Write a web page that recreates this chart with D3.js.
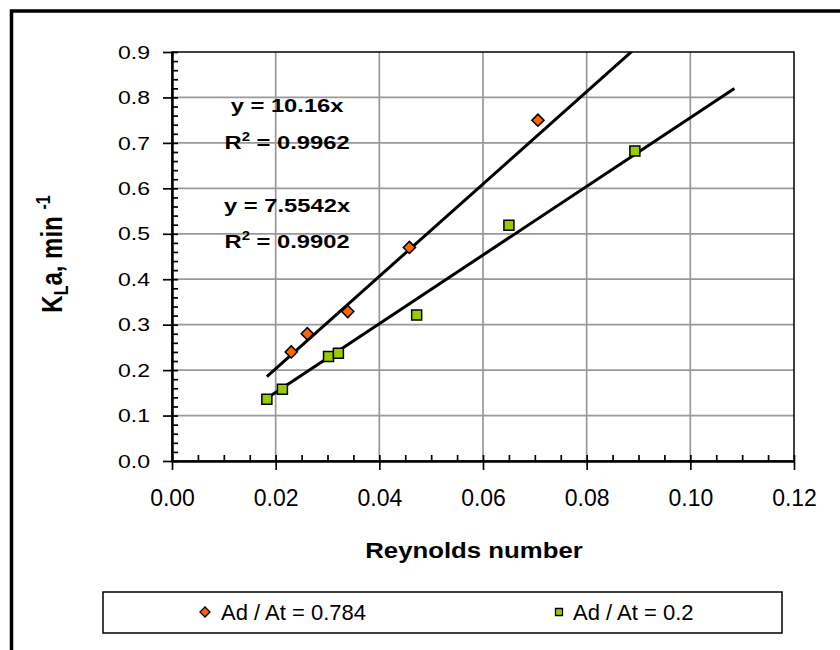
<!DOCTYPE html>
<html>
<head>
<meta charset="utf-8">
<script src="https://cdn.jsdelivr.net/npm/d3@7"></script>
<style>
  body { margin: 0; background: #fff; }
  text { font-family: Arial, "Liberation Sans", sans-serif; fill: #000; }
</style>
</head>
<body>
<svg id="svg1" width="840" height="650"></svg>
<script>
// data
var seriesNames = ["Ad / At = 0.784", "Ad / At = 0.2"];
var reA = [0.0230, 0.0261, 0.0339, 0.0458, 0.0706];
var klaA = [0.240, 0.280, 0.329, 0.470, 0.750];
var reB = [0.0183, 0.0213, 0.0302, 0.0321, 0.0472, 0.0650, 0.0893];
var klaB = [0.136, 0.158, 0.230, 0.237, 0.321, 0.519, 0.682];
var slopes = [10.16, 7.5542];
var slopeLabels = ["10.16", "7.5542"];
var r2Labels = ["0.9962", "0.9902"];
var trendRange = [0.0183, 0.1085];
var xTicks = [0, 0.02, 0.04, 0.06, 0.08, 0.10, 0.12];
var yTicks = [0, 0.1, 0.2, 0.3, 0.4, 0.5, 0.6, 0.7, 0.8, 0.9];

var svg = d3.select("#svg1");
var margin = {left: 172, top: 52, right: 794, bottom: 461};
var colors = ["#FF6600", "#99CC00"];

var x = d3.scaleLinear().domain([0, 0.12]).range([margin.left, margin.right]);
var y = d3.scaleLinear().domain([0, 0.9]).range([margin.bottom, margin.top]);

// outer chart frame (runs off the right and bottom of the picture)
svg.append("rect")
    .attr("x", 11.5).attr("y", 11)
    .attr("width", 900).attr("height", 700)
    .attr("fill", "none").attr("stroke", "#000").attr("stroke-width", 3.5);

svg.append("defs").append("clipPath")
    .attr("id", "clip")
  .append("rect")
    .attr("x", margin.left).attr("y", margin.top)
    .attr("width", margin.right - margin.left)
    .attr("height", margin.bottom - margin.top);

// grid
var grid = svg.append("g").attr("stroke", "#999").attr("stroke-width", 1.7);
grid.selectAll(".gx").data(xTicks.slice(1, -1)).enter().append("line")
    .attr("x1", function(d) { return x(d); }).attr("x2", function(d) { return x(d); })
    .attr("y1", y(0)).attr("y2", y(0.9));
grid.selectAll(".gy").data(yTicks.slice(1, -1)).enter().append("line")
    .attr("y1", function(d) { return y(d); }).attr("y2", function(d) { return y(d); })
    .attr("x1", x(0)).attr("x2", x(0.12));

// plot border
svg.append("rect")
    .attr("x", margin.left).attr("y", margin.top)
    .attr("width", margin.right - margin.left)
    .attr("height", margin.bottom - margin.top)
    .attr("fill", "none").attr("stroke", "#000").attr("stroke-width", 1.5);

// axes
var yAxis = svg.append("g")
    .attr("transform", "translate(" + margin.left + ",0)")
    .call(d3.axisLeft(y).tickValues(yTicks).tickSizeInner(9).tickSizeOuter(0)
      .tickFormat(d3.format(".1f")));
svg.append("g")
    .attr("transform", "translate(" + margin.left + ",0)")
    .call(d3.axisRight(y).tickValues(d3.range(0, 0.9001, 0.02)).tickSizeInner(6).tickSizeOuter(0)
      .tickFormat(""));

var xAxis = svg.append("g")
    .attr("transform", "translate(0," + margin.bottom + ")")
    .call(d3.axisBottom(x).tickValues(xTicks).tickSizeInner(9).tickSizeOuter(0)
      .tickFormat(d3.format(".2f")));
svg.append("g")
    .attr("transform", "translate(0," + margin.bottom + ")")
    .call(d3.axisTop(x).tickValues(d3.range(0, 0.12001, 0.005)).tickSizeInner(6).tickSizeOuter(0)
      .tickFormat(""));

svg.selectAll(".domain").attr("stroke", "#000").attr("stroke-width", 2);
svg.selectAll(".tick line").attr("stroke", "#000").attr("stroke-width", 1.7);

yAxis.selectAll("text")
    .attr("x", null).attr("dy", "0.34em")
    .attr("transform", "translate(-22,0) scale(1.28,1)")
    .style("font-size", "18px").attr("font-family", null);
xAxis.selectAll("text")
    .attr("y", 45).attr("dy", 0)
    .style("font-size", "23px").attr("font-family", null);

// trend lines
var trends = svg.append("g").attr("clip-path", "url(#clip)");
slopes.forEach(function(k) {
  trends.append("line")
      .attr("x1", x(trendRange[0])).attr("y1", y(k * trendRange[0]))
      .attr("x2", x(trendRange[1])).attr("y2", y(k * trendRange[1]))
      .attr("stroke", "#000").attr("stroke-width", 3);
});

// markers
var diamond = d3.symbol().type(d3.symbolSquare).size(74);
var square = d3.symbol().type(d3.symbolSquare).size(100);

svg.append("g").selectAll("path").data(d3.zip(reA, klaA)).enter().append("path")
    .attr("d", diamond)
    .attr("transform", function(d) { return "translate(" + x(d[0]) + "," + y(d[1]) + ") rotate(45)"; })
    .attr("fill", colors[0]).attr("stroke", "#000").attr("stroke-width", 1.5);

svg.append("g").selectAll("path").data(d3.zip(reB, klaB)).enter().append("path")
    .attr("d", square)
    .attr("transform", function(d) { return "translate(" + x(d[0]) + "," + y(d[1]) + ")"; })
    .attr("fill", colors[1]).attr("stroke", "#000").attr("stroke-width", 1.5);

// trendline equations
var eqX = 0.0222;
var eqY = [[0.768, 0.687], [0.548, 0.469]];
slopes.forEach(function(k, i) {
  svg.append("text")
      .attr("transform", "translate(" + x(eqX) + "," + y(eqY[i][0]) + ") scale(1.25,1)")
      .attr("text-anchor", "middle")
      .style("font-size", "19px").style("font-weight", "bold")
      .text("y = " + slopeLabels[i] + "x");
  var t = svg.append("text")
      .attr("transform", "translate(" + x(eqX) + "," + y(eqY[i][1]) + ") scale(1.25,1)")
      .attr("text-anchor", "middle")
      .style("font-size", "19px").style("font-weight", "bold");
  t.append("tspan").text("R");
  t.append("tspan").attr("dy", -8).style("font-size", "12px").text("2");
  t.append("tspan").attr("dy", 8).text(" = " + r2Labels[i]);
});

// axis titles
svg.append("text")
    .attr("transform", "translate(474,558) scale(1.12,1)")
    .attr("text-anchor", "middle")
    .style("font-size", "23px").style("font-weight", "bold")
    .text("Reynolds number");

var yt = svg.append("text")
    .attr("transform", "translate(62,254) scale(1.25,1) rotate(-90)")
    .attr("text-anchor", "middle")
    .style("font-size", "24px").style("font-weight", "bold");
yt.append("tspan").text("K");
yt.append("tspan").attr("dy", 5).style("font-size", "16px").text("L");
yt.append("tspan").attr("dy", -5).text("a, min ");
yt.append("tspan").attr("dy", -10).style("font-size", "16px").text("-1");

// legend
var legend = svg.append("g");
legend.append("rect")
    .attr("x", 103).attr("y", 592).attr("width", 679).attr("height", 41)
    .attr("fill", "#fff").attr("stroke", "#000").attr("stroke-width", 1.5);
var legendX = [205, 559];
var legendSyms = [d3.symbol().type(d3.symbolSquare).size(50), d3.symbol().type(d3.symbolSquare).size(49)];
seriesNames.forEach(function(name, i) {
  legend.append("path")
      .attr("d", legendSyms[i])
      .attr("transform", "translate(" + legendX[i] + ",612)" + (i == 0 ? " rotate(45)" : ""))
      .attr("fill", colors[i]).attr("stroke", "#000").attr("stroke-width", 1.3);
  legend.append("text")
      .attr("x", legendX[i] + (i == 0 ? 16 : 14)).attr("y", 620)
      .style("font-size", "22px")
      .text(name);
});
</script>
</body>
</html>
